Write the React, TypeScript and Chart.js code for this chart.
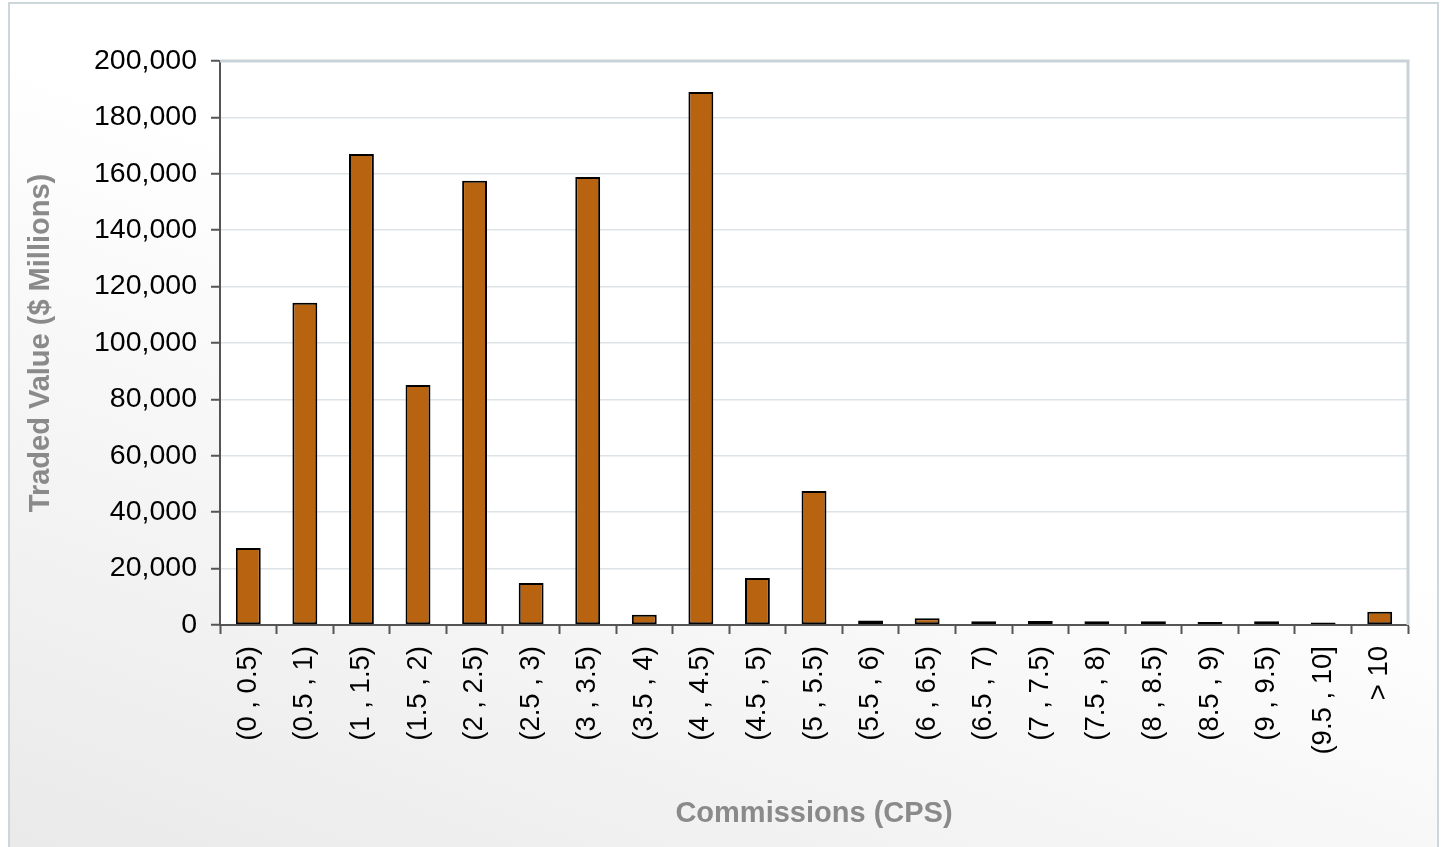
import React, { useEffect, useRef } from "react";
import { Chart, registerables } from "chart.js";

Chart.register(...registerables);

const categories = [
  "(0 , 0.5)", "(0.5 , 1)", "(1 , 1.5)", "(1.5 , 2)", "(2 , 2.5)", "(2.5 , 3)",
  "(3 , 3.5)", "(3.5 , 4)", "(4 , 4.5)", "(4.5 , 5)", "(5 , 5.5)", "(5.5 , 6)",
  "(6 , 6.5)", "(6.5 , 7)", "(7 , 7.5)", "(7.5 , 8)", "(8 , 8.5)", "(8.5 , 9)",
  "(9 , 9.5)", "(9.5 , 10]", "> 10",
];

const tradedValue = [
  27300, 114300, 167000, 85100, 157500, 14900, 158900, 3600, 189000, 16700,
  47500, 1600, 2400, 1300, 1400, 1300, 1300, 1100, 1300, 900, 4700,
];

const yMin = 0;
const yMax = 200000;
const yStep = 20000;

const xTitle = "Commissions (CPS)";
const yTitle = "Traded Value ($ Millions)";

const FONT = "'Liberation Sans', Arial, sans-serif";

const plotBg = {
  id: "plotBg",
  beforeDraw(chart: any) {
    const { ctx, chartArea } = chart;
    ctx.save();
    ctx.fillStyle = "#ffffff";
    ctx.fillRect(chartArea.left, chartArea.top, chartArea.right - chartArea.left, chartArea.bottom - chartArea.top);
    ctx.restore();
  },
  afterDraw(chart: any) {
    const { ctx, chartArea } = chart;
    ctx.save();
    ctx.strokeStyle = "#c8d2d8";
    ctx.lineWidth = 3;
    ctx.beginPath();
    ctx.moveTo(chartArea.left, chartArea.top);
    ctx.lineTo(chartArea.right, chartArea.top);
    ctx.lineTo(chartArea.right, chartArea.bottom);
    ctx.stroke();
    ctx.restore();
  },
};

export default function App() {
  const ref = useRef<HTMLCanvasElement>(null);
  useEffect(() => {
    if (!ref.current) return;
    const chart = new Chart(ref.current, {
      type: "bar",
      data: {
        labels: categories,
        datasets: [
          {
            data: tradedValue,
            backgroundColor: "#b8630f",
            borderColor: "#000000",
            borderWidth: 2,
            borderSkipped: false,
            categoryPercentage: 1,
            barPercentage: 0.44,
          },
        ],
      },
      options: {
        responsive: false,
        animation: false,
        layout: { padding: { left: 10, top: 61, right: 39, bottom: 10 } },
        plugins: { legend: { display: false }, tooltip: { enabled: false } },
        scales: {
          x: {
            afterFit: (s: any) => { s.height = 847 - 625 - 10; },
            grid: { display: true, drawOnChartArea: false, offset: true, tickLength: 9, tickColor: "#555", tickWidth: 2 },
            border: { color: "#555", width: 2 },
            ticks: {
              minRotation: 90, maxRotation: 90, padding: 12,
              color: "#000", font: { family: FONT, size: 27.5 },
              autoSkip: false,
            },
            title: {
              display: true, text: xTitle, color: "#8a8a8a",
              font: { family: FONT, size: 29, weight: "bold" },
              padding: { top: 0, bottom: 6 },
            },
          },
          y: {
            min: yMin, max: yMax,
            afterFit: (s: any) => { s.width = 210; },
            grid: { color: "#dde3e6", lineWidth: 1.5, tickLength: 9, tickColor: "#555", tickWidth: 2 },
            border: { color: "#555", width: 2 },
            ticks: {
              stepSize: yStep, padding: 14, color: "#000",
              font: { family: FONT, size: 28.5 },
              callback: (v: any) => Number(v).toLocaleString("en-US"),
            },
            title: {
              display: true, text: yTitle, color: "#8a8a8a",
              font: { family: FONT, size: 29, weight: "bold" },
              padding: { top: 14, bottom: 0 },
            },
          },
        },
      },
      plugins: [plotBg],
    });
    return () => chart.destroy();
  }, []);

  return (
    <div style={{ position: "fixed", left: 0, top: 0, width: 1447, height: 847, overflow: "hidden" }}>
      <div
        style={{
          position: "absolute", left: 8, top: 2, width: 1427, height: 900,
          border: "2px solid #cdd6da",
          background: "linear-gradient(200deg, #ffffff 40%, #e8e8e8 100%)",
        }}
      />
      <canvas ref={ref} width={1447} height={847} style={{ position: "absolute", left: 0, top: 0 }} />
    </div>
  );
}
